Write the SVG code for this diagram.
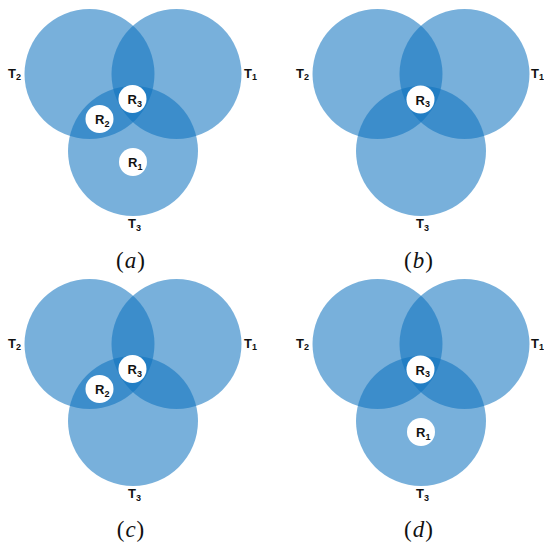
<svg xmlns="http://www.w3.org/2000/svg" width="544" height="544" viewBox="0 0 544 544">
<style>
.set{fill:rgb(15,115,191);fill-opacity:0.56;stroke:none}
.reg{fill:#ffffff;stroke:none}
.lbl{font-family:"Liberation Sans",Arial,sans-serif;font-weight:bold;font-size:13px;fill:#111}
.sub{font-size:9px}
.cap{font-family:"Liberation Serif","Times New Roman",serif;font-size:23px;fill:#111;text-anchor:middle;letter-spacing:1px}
.it{font-style:italic}
</style>
<rect width="544" height="544" fill="#ffffff"/>

<!-- Panel (a) -->
<g id="panel-a">
  <g id="a-T2"><circle class="set" cx="89.5" cy="74" r="65"/><text class="lbl" x="8" y="77.5">T<tspan class="sub" dy="2.5">2</tspan></text></g>
  <g id="a-T1"><circle class="set" cx="176.5" cy="74" r="65"/><text class="lbl" x="244" y="77.5">T<tspan class="sub" dy="2.5">1</tspan></text></g>
  <g id="a-T3"><circle class="set" cx="133" cy="151" r="65"/><text class="lbl" x="128" y="228">T<tspan class="sub" dy="2.5">3</tspan></text></g>
  <g id="a-R3"><circle class="reg" cx="132.5" cy="99" r="14"/><text class="lbl" x="127.5" y="104">R<tspan class="sub" dy="2.5">3</tspan></text></g>
  <g id="a-R2"><circle class="reg" cx="99.5" cy="119" r="14"/><text class="lbl" x="95" y="124">R<tspan class="sub" dy="2.5">2</tspan></text></g>
  <g id="a-R1"><circle class="reg" cx="133" cy="162" r="14"/><text class="lbl" x="128" y="167">R<tspan class="sub" dy="2.5">1</tspan></text></g>
  <text class="cap" x="131" y="268">(<tspan class="it">a</tspan>)</text>
</g>

<!-- Panel (b) -->
<g id="panel-b" transform="translate(288,0)">
  <g id="b-T2"><circle class="set" cx="89.5" cy="74" r="65"/><text class="lbl" x="8" y="77.5">T<tspan class="sub" dy="2.5">2</tspan></text></g>
  <g id="b-T1"><circle class="set" cx="176.5" cy="74" r="65"/><text class="lbl" x="243" y="77.5">T<tspan class="sub" dy="2.5">1</tspan></text></g>
  <g id="b-T3"><circle class="set" cx="133" cy="151" r="65"/><text class="lbl" x="128" y="228">T<tspan class="sub" dy="2.5">3</tspan></text></g>
  <g id="b-R3"><circle class="reg" cx="132.5" cy="99.5" r="14"/><text class="lbl" x="127.5" y="104.5">R<tspan class="sub" dy="2.5">3</tspan></text></g>
  <text class="cap" x="131" y="268">(<tspan class="it">b</tspan>)</text>
</g>

<!-- Panel (c) -->
<g id="panel-c" transform="translate(0,270)">
  <g id="c-T2"><circle class="set" cx="89.5" cy="74" r="65"/><text class="lbl" x="8" y="77.5">T<tspan class="sub" dy="2.5">2</tspan></text></g>
  <g id="c-T1"><circle class="set" cx="176.5" cy="74" r="65"/><text class="lbl" x="244" y="77.5">T<tspan class="sub" dy="2.5">1</tspan></text></g>
  <g id="c-T3"><circle class="set" cx="133" cy="151" r="65"/><text class="lbl" x="128" y="228">T<tspan class="sub" dy="2.5">3</tspan></text></g>
  <g id="c-R3"><circle class="reg" cx="132.5" cy="99" r="14"/><text class="lbl" x="127.5" y="104">R<tspan class="sub" dy="2.5">3</tspan></text></g>
  <g id="c-R2"><circle class="reg" cx="99.5" cy="119" r="14"/><text class="lbl" x="95" y="124">R<tspan class="sub" dy="2.5">2</tspan></text></g>
  <text class="cap" x="131" y="267">(<tspan class="it">c</tspan>)</text>
</g>

<!-- Panel (d) -->
<g id="panel-d" transform="translate(288,270)">
  <g id="d-T2"><circle class="set" cx="89.5" cy="74" r="65"/><text class="lbl" x="8" y="77.5">T<tspan class="sub" dy="2.5">2</tspan></text></g>
  <g id="d-T1"><circle class="set" cx="176.5" cy="74" r="65"/><text class="lbl" x="243" y="77.5">T<tspan class="sub" dy="2.5">1</tspan></text></g>
  <g id="d-T3"><circle class="set" cx="133" cy="151" r="65"/><text class="lbl" x="128" y="228">T<tspan class="sub" dy="2.5">3</tspan></text></g>
  <g id="d-R3"><circle class="reg" cx="132.5" cy="99.5" r="14"/><text class="lbl" x="127.5" y="104.5">R<tspan class="sub" dy="2.5">3</tspan></text></g>
  <g id="d-R1"><circle class="reg" cx="133" cy="162" r="14"/><text class="lbl" x="128" y="167">R<tspan class="sub" dy="2.5">1</tspan></text></g>
  <text class="cap" x="131" y="267">(<tspan class="it">d</tspan>)</text>
</g>

<g id="connectors"></g>
</svg>
